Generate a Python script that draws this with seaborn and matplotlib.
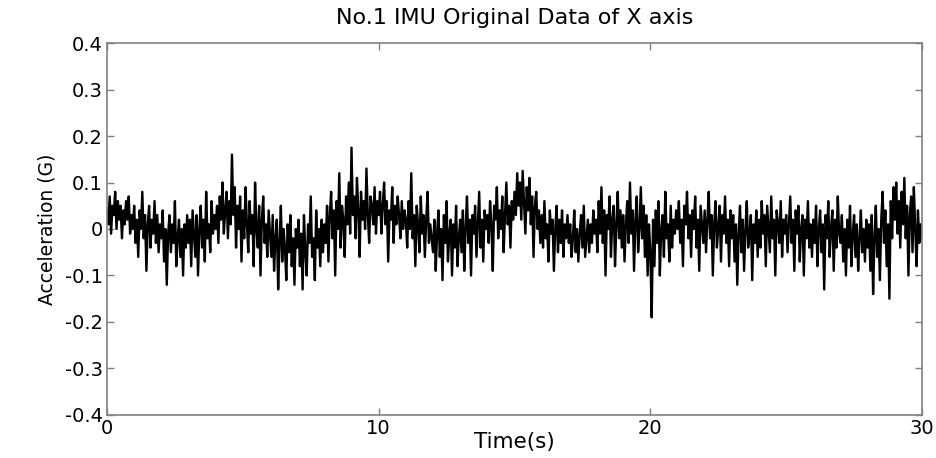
import numpy as np
import pandas as pd
import matplotlib
matplotlib.use("Agg")
import matplotlib.pyplot as plt
import seaborn as sns

title = "No.1 IMU Original Data of X axis"
x_label = "Time(s)"
y_label = "Acceleration (G)"
x_ticks = [0, 10, 20, 30]
y_ticks = [0.4, 0.3, 0.2, 0.1, 0.0, -0.1, -0.2, -0.3, -0.4]
y_tick_labels = ["0.4", "0.3", "0.2", "0.1", "0", "-0.1", "-0.2", "-0.3", "-0.4"]
sample_period = 0.05  # seconds between samples

# acceleration samples, one row per second
acc = [
    0.04, 0.01, 0.07, -0.01, 0.05, 0.03, 0.08, 0.00, 0.06, 0.02, 0.05, -0.02, 0.04, 0.01, 0.06, 0.02, 0.07, -0.01, 0.03, 0.00,
    0.05, -0.03, 0.02, -0.06, 0.04, 0.00, 0.08, -0.02, 0.03, -0.09, 0.01, 0.05, -0.04, 0.02, -0.01, 0.06, -0.03, 0.03, -0.05, 0.01,
    -0.02, 0.04, -0.07, 0.00, -0.12, -0.01, 0.03, -0.05, 0.01, -0.03, 0.06, -0.08, -0.02, 0.02, -0.06, 0.00, -0.10, 0.01, -0.04, 0.03,
    -0.03, 0.02, -0.08, 0.04, -0.01, -0.06, 0.03, -0.10, 0.00, 0.05, -0.04, 0.02, -0.07, 0.08, -0.02, 0.01, -0.05, 0.06, -0.01, 0.03,
    0.00, 0.05, -0.03, 0.07, 0.02, 0.10, -0.01, 0.04, 0.08, -0.02, 0.06, 0.01, 0.16, 0.03, 0.09, -0.04, 0.05, 0.00, 0.07, -0.07,
    0.04, -0.02, 0.09, 0.01, -0.05, 0.06, -0.01, 0.03, -0.08, 0.10, 0.00, -0.04, 0.05, -0.10, 0.02, 0.07, -0.03, 0.01, -0.06, 0.04,
    -0.01, -0.06, 0.03, -0.09, -0.02, 0.02, -0.13, -0.03, 0.05, -0.07, 0.00, -0.04, -0.11, 0.01, -0.05, 0.03, -0.08, -0.02, -0.12, 0.00,
    -0.04, 0.02, -0.08, -0.01, -0.13, 0.03, -0.05, -0.10, 0.01, -0.03, 0.07, -0.06, -0.02, -0.11, 0.04, -0.04, 0.00, -0.08, 0.02, -0.05,
    0.01, -0.03, 0.05, -0.07, 0.03, 0.08, -0.02, 0.04, -0.10, 0.06, 0.00, 0.12, -0.04, 0.05, 0.02, -0.06, 0.07, 0.01, 0.10, -0.01,
    0.175, 0.03, 0.07, -0.02, 0.11, 0.04, -0.06, 0.08, 0.02, 0.06, 0.00, 0.13, 0.03, -0.03, 0.07, 0.05, 0.01, 0.09, -0.01, 0.06,
    0.03, 0.08, -0.01, 0.05, 0.10, 0.01, 0.06, -0.07, 0.04, 0.02, 0.09, -0.03, 0.05, 0.01, 0.07, 0.03, -0.02, 0.06, 0.00, 0.04,
    0.02, -0.04, 0.06, 0.00, 0.12, -0.02, 0.03, -0.08, 0.05, 0.01, -0.05, 0.07, -0.01, 0.03, -0.06, 0.02, 0.08, -0.03, 0.01, -0.02,
    -0.05, 0.02, -0.09, -0.01, 0.04, -0.06, 0.00, -0.11, 0.03, -0.03, 0.06, -0.07, -0.01, 0.02, -0.10, 0.01, -0.04, 0.05, -0.08, -0.02,
    0.02, -0.05, 0.04, -0.09, 0.00, 0.07, -0.03, 0.02, -0.10, 0.03, -0.01, 0.05, -0.06, 0.01, 0.08, -0.04, 0.02, -0.07, 0.04, 0.00,
    0.03, -0.03, 0.06, 0.01, -0.09, 0.05, 0.02, 0.09, -0.02, 0.04, 0.00, 0.07, -0.05, 0.03, 0.10, 0.01, 0.05, -0.04, 0.06, 0.02,
    0.08, 0.03, 0.12, 0.05, 0.10, 0.02, 0.125, 0.06, -0.01, 0.09, 0.04, 0.11, 0.01, 0.07, -0.06, 0.05, 0.08, 0.00, 0.04, -0.03,
    0.03, -0.04, 0.06, -0.02, 0.01, -0.07, 0.04, -0.01, 0.02, -0.09, 0.00, 0.05, -0.05, 0.02, -0.03, 0.04, -0.06, 0.01, -0.02, 0.03,
    -0.03, 0.01, -0.06, -0.02, 0.04, -0.05, 0.00, -0.07, -0.01, 0.03, -0.04, 0.05, -0.06, -0.02, 0.02, -0.05, 0.01, -0.03, 0.04, -0.01,
    0.02, -0.05, 0.06, -0.01, 0.09, -0.03, 0.04, -0.10, 0.03, 0.00, 0.07, -0.06, 0.02, 0.05, -0.08, 0.01, 0.08, -0.02, 0.04, -0.04,
    0.03, -0.07, 0.01, 0.06, -0.03, 0.10, -0.01, 0.04, -0.09, 0.02, 0.07, -0.05, 0.00, 0.09, -0.02, 0.05, -0.06, 0.03, -0.10, 0.01,
    -0.05, -0.19, 0.02, -0.08, 0.04, -0.03, 0.06, -0.10, 0.00, 0.03, -0.06, 0.08, -0.02, 0.01, -0.07, 0.05, -0.04, 0.02, -0.01, 0.04,
    0.00, 0.06, -0.03, 0.02, -0.08, 0.05, 0.01, 0.08, -0.02, 0.03, -0.06, 0.04, 0.00, 0.07, -0.04, 0.02, -0.09, 0.05, 0.01, -0.03,
    0.04, -0.05, 0.02, 0.08, -0.02, 0.03, -0.10, 0.01, 0.06, -0.04, 0.00, 0.05, -0.07, 0.03, -0.01, 0.07, -0.03, 0.02, -0.08, 0.04,
    -0.02, 0.03, -0.07, 0.01, -0.12, -0.01, 0.05, -0.05, 0.02, -0.09, 0.00, 0.06, -0.04, -0.01, 0.03, -0.11, 0.01, -0.03, 0.04, -0.06,
    0.02, -0.04, 0.06, -0.01, 0.03, -0.08, 0.05, 0.00, -0.05, 0.07, -0.02, 0.02, -0.10, 0.04, 0.01, -0.03, 0.06, -0.06, 0.02, -0.01,
    0.03, -0.05, 0.01, 0.07, -0.03, 0.02, -0.09, 0.04, -0.01, 0.05, -0.07, 0.00, 0.03, -0.10, 0.02, -0.02, 0.06, -0.04, 0.01, -0.06,
    0.02, -0.03, 0.05, -0.08, 0.00, 0.04, -0.05, 0.01, -0.13, 0.03, -0.02, 0.06, -0.06, 0.00, 0.04, -0.09, 0.02, -0.04, 0.07, -0.01,
    -0.03, 0.03, -0.07, 0.00, -0.10, 0.02, -0.04, 0.05, -0.08, -0.01, 0.03, -0.06, 0.01, -0.09, -0.02, 0.04, -0.05, 0.00, -0.07, 0.02,
    -0.04, 0.01, -0.09, 0.03, -0.14, -0.02, 0.05, -0.06, 0.00, -0.11, 0.02, 0.08, -0.03, 0.04, -0.08, 0.01, -0.15, 0.06, -0.02, 0.09,
    0.02, 0.10, -0.01, 0.06, -0.04, 0.08, 0.01, 0.11, -0.02, 0.05, -0.10, 0.03, 0.07, -0.05, 0.09, 0.00, -0.08, 0.04, -0.03, 0.01,
    -0.02,
]

time = np.arange(len(acc)) * sample_period
df = pd.DataFrame({"Time": time, "Acc": acc})

sns.set_style("ticks")
plt.rcParams["font.family"] = ["DejaVu Sans"]
plt.rcParams["axes.unicode_minus"] = False
plt.rcParams["text.color"] = "black"
plt.rcParams["axes.labelcolor"] = "black"

fig = plt.figure(figsize=(9.37, 4.58), dpi=100)
ax = fig.add_axes([0.1142, 0.0939, 0.8698, 0.8122])

sns.lineplot(data=df, x="Time", y="Acc", ax=ax, color="black", linewidth=1.7,
             estimator=None, sort=False)

ax.set_xlim(0, 30)
ax.set_ylim(-0.4, 0.4)
ax.set_xticks(x_ticks)
ax.set_xticklabels([str(v) for v in x_ticks])
ax.set_yticks(y_ticks)
ax.set_yticklabels(y_tick_labels)
for s in ax.spines.values():
    s.set_visible(True)
    s.set_color("#808080")
    s.set_linewidth(1.2)
ax.tick_params(direction="in", length=5, width=1, color="#808080",
               labelsize=14, top=True, right=True, labelcolor="black", pad=3)
ax.set_xlabel(x_label, fontsize=15.5, labelpad=0)
ax.xaxis.set_label_coords(0.5, -0.046)
ax.set_ylabel(y_label, fontsize=13.5)
ax.yaxis.set_label_coords(-0.062, 0.5)
ax.set_title(title, fontsize=16, pad=14, color="black")

fig.savefig("out.png", dpi=100)
